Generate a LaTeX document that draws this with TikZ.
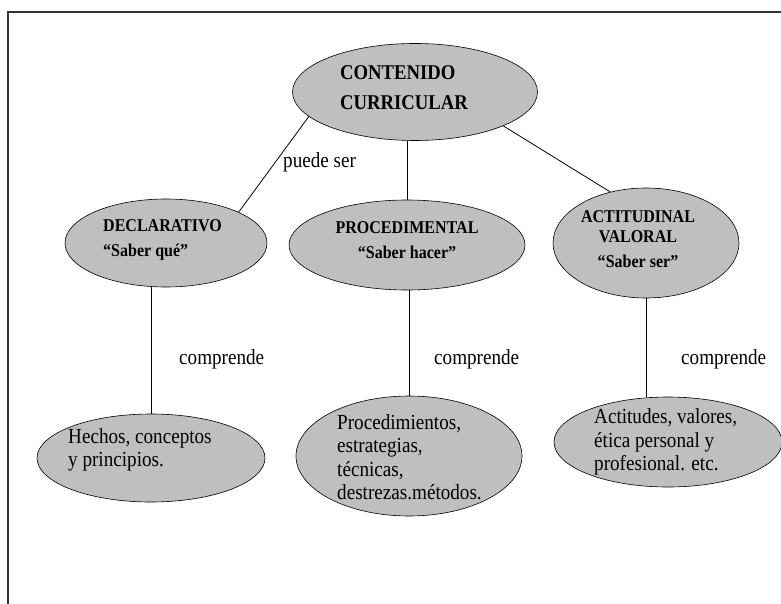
\documentclass[tikz,border=0pt]{standalone}
\usepackage{fontspec}
\setmainfont{Liberation Serif}[FakeStretch=0.89]
\usetikzlibrary{shapes.geometric}

\begin{document}
\begin{tikzpicture}[x=1pt,y=-1pt]
% Styles
\tikzstyle{cadre}=[line width=1.2pt,black!80]
\tikzstyle{trait}=[line width=0.8pt]
\tikzstyle{bulle}=[ellipse,draw=black,fill=black!25,line width=0.6pt,inner sep=0pt]
\tikzstyle{titre}=[font=\bfseries\fontsize{21}{30}\selectfont,align=left,inner sep=0pt]
\tikzstyle{rubrique}=[font=\bfseries\fontsize{18}{25}\selectfont,inner sep=0pt]
\tikzstyle{texte}=[font=\fontsize{21.5}{23.5}\selectfont,align=left,inner sep=0pt]
% Encadrement
\useasboundingbox (0,0) rectangle (781,604);
\draw[cadre] (781,12) -- (8,12) -- (8,604);
% Niveau 1 : contenido curricular
\node[bulle,minimum width=245,minimum height=97] (contenido) at (415,92) {};
\node[titre,anchor=west] (tcontenido) at (340,88) {CONTENIDO\\CURRICULAR};
% Niveau 2 : tipos de contenido
\node[bulle,minimum width=202,minimum height=88] (declarativo) at (166,243) {};
\node[bulle,minimum width=236,minimum height=90] (procedimental) at (407,245) {};
\node[bulle,minimum width=186,minimum height=110] (actitudinal) at (646,243) {};
\node[rubrique,align=left,anchor=west] (tdeclarativo) at (103,240) {DECLARATIVO\\“Saber qué”};
\node[rubrique,align=center] (tprocedimental) at (407,240) {PROCEDIMENTAL\\“Saber hacer”};
\node[rubrique,align=center] (tactitudinal) at (638,239) {ACTITUDINAL\\[-5pt]VALORAL\\“Saber ser”};
% Niveau 3 : ce que comprend chaque type
\node[bulle,minimum width=228,minimum height=88] (hechos) at (151,458) {};
\node[bulle,minimum width=226,minimum height=120] (procedimientos) at (409,456) {};
\node[bulle,minimum width=228,minimum height=90] (actitudes) at (668,442) {};
\node[texte,anchor=west] (thechos) at (68,450) {Hechos, conceptos\\y principios.};
\node[texte,anchor=west] (tprocedimientos) at (337,457) {Procedimientos,\\estrategias,\\técnicas,\\destrezas.métodos.};
\node[texte,anchor=west] (tactitudes) at (594,442) {Actitudes, valores,\\ética personal y\\profesional. etc.};
% Liaisons
\draw[trait] (contenido.193) -- (declarativo.23);
\draw[trait] (procedimental.north) -- (procedimental.north |- contenido.south);
\draw[trait] (contenido.-21) -- (actitudinal.125);
\draw[trait] (hechos.north) -- (hechos.north |- declarativo.south);
\draw[trait] (procedimientos.north) -- (procedimientos.north |- procedimental.south);
\draw[trait] (actitudinal.south) -- (actitudinal.south |- actitudes.north);
% Etiquettes
\node[texte,anchor=west] (puede) at (283,162) {puede ser};
\node[texte,anchor=west] (comp1) at (179,359) {comprende};
\node[texte,anchor=west] (comp2) at (434,359) {comprende};
\node[texte,anchor=west] (comp3) at (681,359) {comprende};
\end{tikzpicture}
\end{document}
